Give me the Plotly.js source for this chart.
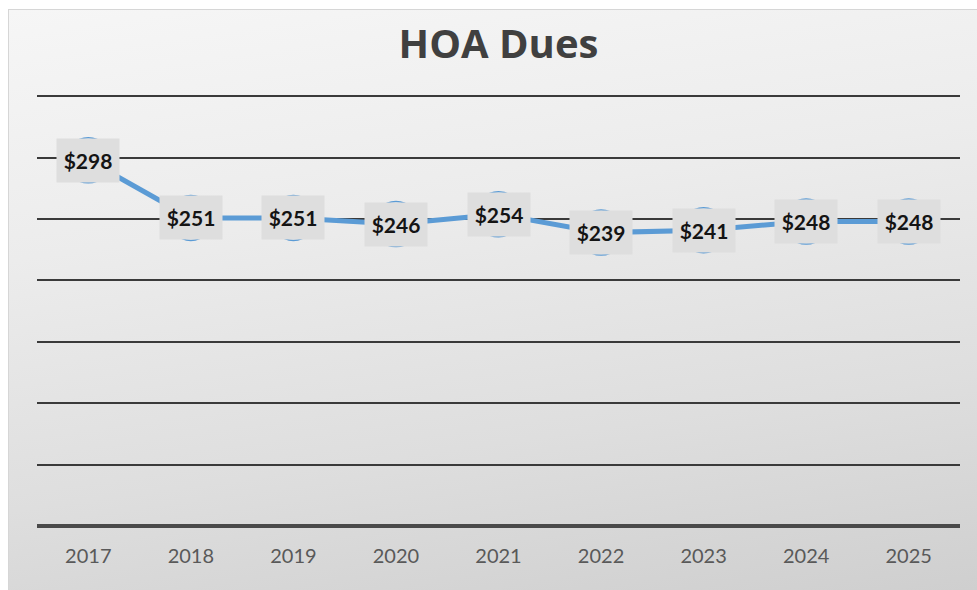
<!DOCTYPE html>
<html>
<head>
<meta charset="utf-8">
<script src="https://cdn.plot.ly/plotly-3.0.1.min.js"></script>
<style>
  html, body { margin: 0; padding: 0; background: #ffffff; }
  #frame {
    position: absolute; left: 8px; top: 9px; width: 968px; height: 580px;
    border: 1px solid #d6d6d6;
    background: linear-gradient(172deg, #f6f6f6 0%, #ececec 35%, #dedede 70%, #cfcfcf 100%);
  }
  #chart { position: absolute; left: 0; top: 0; width: 977px; height: 590px; }
</style>
</head>
<body>
<div id="frame"></div>
<div id="chart"></div>
<script>
const years = ['2017', '2018', '2019', '2020', '2021', '2022', '2023', '2024', '2025'];
const dues = [298, 251, 251, 246, 254, 239, 241, 248, 248];
const labels = dues.map(v => '$' + v);

const trace = {
  x: years,
  y: dues,
  type: 'scatter',
  mode: 'lines+markers',
  line: { color: '#5b9bd5', width: 5 },
  marker: { symbol: 'circle', size: 45, color: 'rgba(0,0,0,0)', line: { color: '#5b9bd5', width: 1.5 } },
  hoverinfo: 'skip'
};

// category axis: annotations are positioned by category index
const annotations = years.map((yr, i) => ({
  x: i, y: dues[i], xref: 'x', yref: 'y',
  text: '<b>' + labels[i] + '</b>',
  showarrow: false,
  font: { family: 'Lato, "Open Sans", sans-serif', size: 21, color: '#141414' },
  bgcolor: '#dedede',
  width: 60, height: 41,
  xanchor: 'center', yanchor: 'middle'
}));

const layout = {
  width: 977, height: 590,
  margin: { l: 37, r: 17, t: 89, b: 64 },
  paper_bgcolor: 'rgba(0,0,0,0)',
  plot_bgcolor: 'rgba(0,0,0,0)',
  title: {
    text: '<b>HOA Dues</b>',
    font: { family: '"Open Sans", Lato, sans-serif', size: 40, color: '#404040' },
    x: 0.5, xref: 'paper', xanchor: 'center',
    y: 0.925, yref: 'container', yanchor: 'middle'
  },
  showlegend: false,
  xaxis: {
    type: 'category',
    range: [-0.5, 8.5],
    showgrid: false,
    zeroline: false,
    showline: false,
    ticks: '',
    tickfont: { family: 'Lato, "Open Sans", sans-serif', size: 20, color: '#595959' },
    ticklabelstandoff: 16
  },
  yaxis: {
    range: [0, 356],
    dtick: 50,
    tick0: 0,
    showticklabels: false,
    ticks: '',
    showgrid: true,
    gridcolor: '#3a3a3a',
    gridwidth: 2,
    zeroline: true,
    zerolinecolor: '#4a4a4a',
    zerolinewidth: 3.5,
    showline: false
  },
  annotations: annotations
};

Plotly.newPlot('chart', [trace], layout, { displayModeBar: false, staticPlot: true });
</script>
</body>
</html>
